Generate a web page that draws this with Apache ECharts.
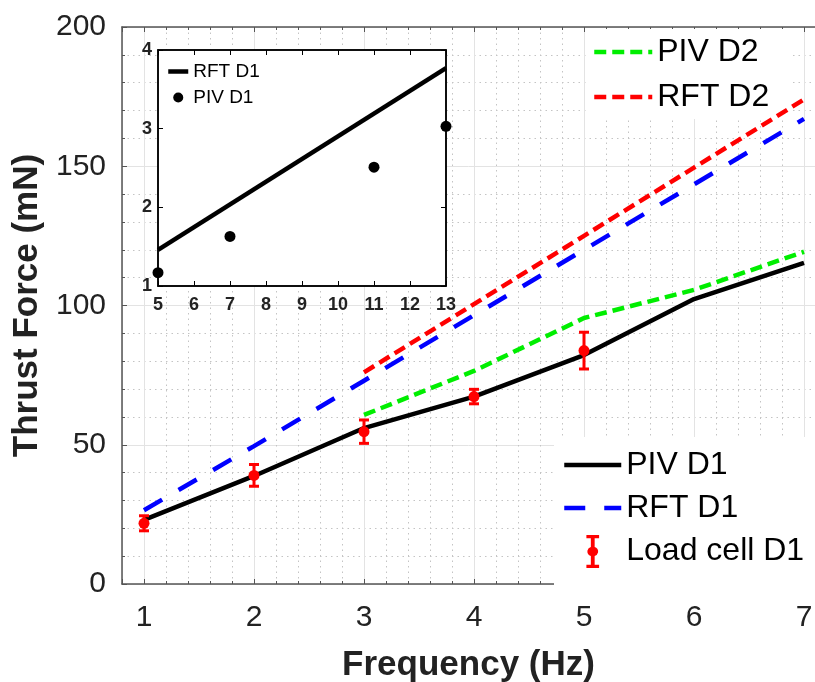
<!DOCTYPE html>
<html lang="en">
<head>
    <meta charset="UTF-8">
    <title>Thrust Force vs Frequency</title>
    <style>
        body { margin: 0; background: #fff; }
        #container { width: 815px; height: 682px; }
    </style>
</head>
<body>
    <div id="container"></div>
    <script src="https://cdn.jsdelivr.net/npm/echarts@6.0.0/dist/echarts.min.js"></script>
    <script>
        // main chart data (frequency in Hz, force in mN)
        const freq = [1, 2, 3, 4, 5, 6, 7];
        const pivD1 = [23, 38.8, 56, 67.3, 82.2, 102.3, 115.3];
        const rftD1 = [26.5, 49.5, 73, 96.5, 120, 143.5, 167];
        const freqD2 = [3, 4, 5, 6, 7];
        const pivD2 = [60.7, 76.5, 95.5, 105.6, 119.3];
        const rftD2 = [76, 100.5, 125, 149.5, 174];
        const loadFreq = [1, 2, 3, 4, 5];
        const loadCell = [21.8, 39, 54.7, 67.3, 83.8];
        const loadErr = [2.7, 3.9, 4.2, 2.6, 6.6];

        // inset data
        const insetRftX = [5, 13];
        const insetRft = [1.46, 3.77];
        const insetPivX = [5, 7, 11, 13];
        const insetPiv = [1.17, 1.63, 2.51, 3.03];

        const FONT = 'Arial, "Liberation Sans", sans-serif';
        const pairs = (xs, ys) => xs.map((x, i) => [x, ys[i]]);

        // error bar legend icon
        const errIcon = 'path://M0,0h10v2.5h-3.5v7a3.6,3.6,0,0,1,0,7v7h3.5v2.5h-10v-2.5h3.5v-7a3.6,3.6,0,0,1,0,-7v-7h-3.5z';
        const noDot = { opacity: 0 };

        const option = {
            backgroundColor: '#fff',
            animation: false,
            grid: [
                { left: 122, top: 27, right: 0, bottom: 98, outerBoundsMode: 'none' },
                { left: 158, top: 50, width: 288, height: 236, show: true, outerBoundsMode: 'none',
                  backgroundColor: '#fff', borderColor: '#000', borderWidth: 1.5, z: 10 }
            ],
            legend: [
                {
                    data: [{ name: 'PIV D2', itemStyle: noDot }, { name: 'RFT D2', itemStyle: noDot }],
                    orient: 'vertical', left: 586, top: 29, padding: [7, 20, 6, 6], z: 1,
                    backgroundColor: '#fff', itemWidth: 58, itemHeight: 14, itemGap: 13, itemTextGap: 5,
                    lineStyle: { width: 'inherit' },
                    textStyle: { fontFamily: FONT, fontSize: 32, color: '#000' }
                },
                {
                    data: [{ name: 'PIV D1', itemStyle: noDot }, { name: 'RFT D1', itemStyle: noDot },
                           { name: 'Load cell D1', icon: errIcon }],
                    orient: 'vertical', left: 554, top: 437, padding: [12, 20, 20, 8], z: 1,
                    backgroundColor: '#fff', itemWidth: 57, itemHeight: 33, itemGap: 11, itemTextGap: 5,
                    lineStyle: { width: 'inherit' },
                    textStyle: { fontFamily: FONT, fontSize: 32, color: '#000' }
                },
                {
                    data: [{ name: 'RFT D1 (inset)', itemStyle: noDot }, 'PIV D1 (inset)'],
                    formatter: n => n.replace(' (inset)', ''),
                    orient: 'vertical', left: 166, top: 62, padding: 0, z: 20,
                    itemWidth: 20, itemHeight: 10, itemGap: 7, itemTextGap: 1,
                    lineStyle: { width: 'inherit' },
                    textStyle: { fontFamily: FONT, fontSize: 19, color: '#000' }
                }
            ],
            xAxis: [
                {
                    type: 'value', gridIndex: 0, min: 0.8, max: 7.1, splitNumber: 6,
                    name: 'Frequency (Hz)', nameLocation: 'middle', nameGap: 64,
                    nameTextStyle: { fontFamily: FONT, fontSize: 35, fontWeight: 'bold', color: '#222' },
                    axisLine: { lineStyle: { color: '#555', width: 1.5 } },
                    axisTick: { inside: true, length: 5, lineStyle: { color: '#555' } },
                    minorTick: { show: true, splitNumber: 5, length: 3, lineStyle: { color: '#555' } },
                    axisLabel: { fontFamily: FONT, fontSize: 30, color: '#222', margin: 19,
                                 formatter: v => Number.isInteger(v) ? v : '' },
                    splitLine: { show: true, lineStyle: { color: '#e3e3e3', width: 1 } },
                    minorSplitLine: { show: true, lineStyle: { color: '#c4c4c4', width: 1, type: [1.5, 4] } }
                },
                {
                    type: 'value', gridIndex: 0, min: 0.8, max: 7.1, splitNumber: 6, position: 'top',
                    axisLine: { lineStyle: { color: '#555', width: 1.5 } },
                    axisTick: { inside: true, length: 5, lineStyle: { color: '#555' } },
                    minorTick: { show: true, splitNumber: 5, length: 3, lineStyle: { color: '#555' } },
                    axisLabel: { show: false }, splitLine: { show: false }
                },
                {
                    type: 'value', gridIndex: 1, min: 5, max: 13, interval: 1, z: 11,
                    axisLine: { lineStyle: { color: '#000', width: 1.5 } },
                    axisTick: { inside: true, length: 5, lineStyle: { color: '#000' } },
                    axisLabel: { fontFamily: FONT, fontSize: 18, fontWeight: 'bold', color: '#222', margin: 10 },
                    splitLine: { show: false }
                },
                {
                    type: 'value', gridIndex: 1, min: 5, max: 13, interval: 1, position: 'top', z: 11,
                    axisLine: { lineStyle: { color: '#000', width: 1.5 } },
                    axisTick: { inside: true, length: 5, lineStyle: { color: '#000' } },
                    axisLabel: { show: false }, splitLine: { show: false }
                }
            ],
            yAxis: [
                {
                    type: 'value', gridIndex: 0, min: 0, max: 200, interval: 50,
                    name: 'Thrust Force (mN)', nameLocation: 'middle', nameGap: 75,
                    nameTextStyle: { fontFamily: FONT, fontSize: 35, fontWeight: 'bold', color: '#222' },
                    axisLine: { show: true, lineStyle: { color: '#555', width: 1.5 } },
                    axisTick: { show: true, inside: true, length: 5, lineStyle: { color: '#555' } },
                    minorTick: { show: true, splitNumber: 5, length: 3, lineStyle: { color: '#555' } },
                    axisLabel: { fontFamily: FONT, fontSize: 30, color: '#222', margin: 16 },
                    splitLine: { show: true, lineStyle: { color: '#e3e3e3', width: 1 } },
                    minorSplitLine: { show: true, lineStyle: { color: '#c4c4c4', width: 1, type: [1.5, 4] } }
                },
                {
                    type: 'value', gridIndex: 1, min: 1, max: 4, interval: 1, z: 11,
                    axisLine: { show: true, lineStyle: { color: '#000', width: 1.5 } },
                    axisTick: { show: true, inside: true, length: 5, lineStyle: { color: '#000' } },
                    axisLabel: { fontFamily: FONT, fontSize: 18, fontWeight: 'bold', color: '#222', margin: 6 },
                    splitLine: { show: false }
                },
                {
                    type: 'value', gridIndex: 1, min: 1, max: 4, interval: 1, position: 'right', z: 11,
                    axisLine: { show: true, lineStyle: { color: '#000', width: 1.5 } },
                    axisTick: { show: true, inside: true, length: 5, lineStyle: { color: '#000' } },
                    axisLabel: { show: false }, splitLine: { show: false }
                }
            ],
            series: [
                {
                    name: 'PIV D1', type: 'line', xAxisIndex: 0, yAxisIndex: 0,
                    data: pairs(freq, pivD1), symbol: 'none', z: 3,
                    itemStyle: { color: '#000' },
                    lineStyle: { color: '#000', width: 4.5 }
                },
                {
                    name: 'RFT D1', type: 'line', xAxisIndex: 0, yAxisIndex: 0,
                    data: pairs(freq, rftD1), symbol: 'none', z: 2,
                    itemStyle: { color: '#0000ff' },
                    lineStyle: { color: '#0000ff', width: 4.5, type: [21, 19], cap: 'butt' }
                },
                {
                    name: 'PIV D2', type: 'line', xAxisIndex: 0, yAxisIndex: 0,
                    data: pairs(freqD2, pivD2), symbol: 'none', z: 2,
                    itemStyle: { color: '#00ee00' },
                    lineStyle: { color: '#00ee00', width: 4.5, type: [12, 6], cap: 'butt' }
                },
                {
                    name: 'RFT D2', type: 'line', xAxisIndex: 0, yAxisIndex: 0,
                    data: pairs(freqD2, rftD2), symbol: 'none', z: 2,
                    itemStyle: { color: '#ff0000' },
                    lineStyle: { color: '#ff0000', width: 4.5, type: [12, 6], cap: 'butt' }
                },
                {
                    name: 'Load cell D1', type: 'custom', xAxisIndex: 0, yAxisIndex: 0, z: 4,
                    itemStyle: { color: '#ff0000' },
                    encode: { x: 0, y: 1 },
                    data: loadFreq.map((x, i) => [x, loadCell[i], loadErr[i]]),
                    renderItem: function (params, api) {
                        const x = api.value(0), y = api.value(1), e = api.value(2);
                        const hi = api.coord([x, y + e]);
                        const lo = api.coord([x, y - e]);
                        const c = api.coord([x, y]);
                        const cap = 5;
                        const st = { stroke: '#ff0000', lineWidth: 3 };
                        return {
                            type: 'group',
                            children: [
                                { type: 'line', shape: { x1: hi[0], y1: hi[1], x2: lo[0], y2: lo[1] }, style: st },
                                { type: 'line', shape: { x1: hi[0] - cap, y1: hi[1], x2: hi[0] + cap, y2: hi[1] }, style: st },
                                { type: 'line', shape: { x1: lo[0] - cap, y1: lo[1], x2: lo[0] + cap, y2: lo[1] }, style: st },
                                { type: 'circle', shape: { cx: c[0], cy: c[1], r: 5.5 }, style: { fill: '#ff0000' } }
                            ]
                        };
                    }
                },
                {
                    name: 'RFT D1 (inset)', type: 'line', xAxisIndex: 2, yAxisIndex: 1,
                    data: pairs(insetRftX, insetRft), symbol: 'none', z: 12,
                    itemStyle: { color: '#000' },
                    lineStyle: { color: '#000', width: 4.5 }
                },
                {
                    name: 'PIV D1 (inset)', type: 'scatter', xAxisIndex: 2, yAxisIndex: 1,
                    data: pairs(insetPivX, insetPiv), symbol: 'circle', symbolSize: 11, z: 12,
                    clip: false,
                    itemStyle: { color: '#000', opacity: 1 }
                }
            ]
        };

        const chart = echarts.init(document.getElementById('container'));
        chart.setOption(option);
    </script>
</body>
</html>
